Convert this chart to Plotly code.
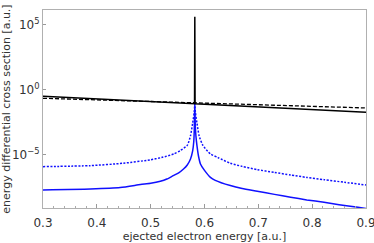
import plotly.graph_objects as go

# black solid (with sharp resonance spike)
x_black = [0.3, 0.45, 0.5815, 0.582, 0.5825, 0.75, 0.9]
y_black = [0.327, 0.161, 0.0861, 4.2e5, 0.086, 0.039, 0.019]

# black dashed
x_dash = [0.3, 0.45, 0.582, 0.75, 0.9]
y_dash = [0.229, 0.149, 0.100, 0.063, 0.0412]

# blue solid
x_bsol = [0.3, 0.388, 0.4435, 0.481, 0.50, 0.518, 0.53, 0.542, 0.552, 0.561, 0.568, 0.574,
          0.578, 0.580, 0.581, 0.582, 0.583, 0.584, 0.586, 0.589, 0.5925, 0.600, 0.611,
          0.62, 0.648, 0.67, 0.698, 0.73, 0.760, 0.79, 0.822, 0.85, 0.885, 0.9]
y_bsol = [2.04e-8, 2.40e-8, 3.1e-8, 5.25e-8, 6.6e-8, 9.5e-8, 1.41e-7, 2.57e-7, 4.2e-7, 8.3e-7, 1.7e-6, 4.9e-6,
          2.04e-5, 1.0e-4, 8.1e-4, 8.3e-2, 1.35e-3, 3.1e-4, 5.2e-5, 7.6e-6, 2.04e-6, 6.5e-7, 1.9e-7,
          1.12e-7, 4.4e-8, 2.6e-8, 1.62e-8, 9.3e-9, 5.6e-9, 3.5e-9, 2.3e-9, 1.5e-9, 9.5e-10, 7.6e-10]

# blue dotted
x_bdot = [0.3, 0.388, 0.449, 0.499, 0.52, 0.543, 0.555, 0.568, 0.574, 0.578, 0.581, 0.582,
          0.583, 0.586, 0.590, 0.597, 0.611, 0.625, 0.648, 0.67, 0.698, 0.73, 0.760, 0.79, 0.822, 0.86, 0.9]
y_bdot = [1.26e-6, 1.51e-6, 2.3e-6, 4.2e-6, 6.3e-6, 1.2e-5, 2.2e-5, 5.5e-5, 3.0e-4, 2.8e-3, 2.04e-2, 8.3e-2,
          2.04e-2, 2.8e-3, 3.0e-4, 5.5e-5, 1.2e-5, 6.3e-6, 2.3e-6, 1.32e-6, 7.4e-7, 4.5e-7, 2.9e-7, 1.86e-7, 1.26e-7, 7.9e-8, 4.9e-8]

x_ticks = [0.3, 0.4, 0.5, 0.6, 0.7, 0.8, 0.9]
y_tickvals = [1e-5, 1, 1e5]
y_ticktext = ["10<sup>\u22125</sup>", "10<sup>0</sup>", "10<sup>5</sup>"]

fig = go.Figure()
fig.add_trace(go.Scatter(x=x_bsol, y=y_bsol, mode="lines",
                         line=dict(color="#1010ff", width=1.5, shape="spline", smoothing=0.6)))
fig.add_trace(go.Scatter(x=x_bdot, y=y_bdot, mode="lines",
                         line=dict(color="#1010ff", width=1.5, dash="2px,1.5px",
                                   shape="spline", smoothing=0.6)))
fig.add_trace(go.Scatter(x=x_dash, y=y_dash, mode="lines",
                         line=dict(color="black", width=1.3, dash="4px,2px")))
fig.add_trace(go.Scatter(x=x_black, y=y_black, mode="lines",
                         line=dict(color="black", width=1.5)))

tfont = dict(family="DejaVu Sans", size=12, color="#333333")
lfont = dict(family="DejaVu Sans", size=11, color="#333333")
fig.update_layout(
    width=374, height=243,
    margin=dict(l=43, r=8, t=10, b=35, autoexpand=False),
    paper_bgcolor="white", plot_bgcolor="white",
    showlegend=False,
    font=tfont,
    xaxis=dict(
        range=[0.3, 0.9], tickvals=x_ticks, ticktext=[f"{v:.1f}" for v in x_ticks],
        ticks="inside", ticklen=4, tickcolor="#999999", tickwidth=1,
        minor=dict(ticks="inside", ticklen=2, tickcolor="#aaaaaa", dtick=0.02),
        showgrid=False, zeroline=False, automargin=False,
        ticklabeloverflow="allow", ticklabelstandoff=4,
        showline=True, linecolor="#b0b0b0", linewidth=1, mirror=True,
        title=dict(text="ejected electron energy [a.u.]", standoff=2, font=lfont),
        tickfont=tfont,
    ),
    yaxis=dict(
        type="log", range=[-9.08, 6.15],
        tickvals=y_tickvals, ticktext=y_ticktext,
        ticks="inside", ticklen=3, tickcolor="#999999",
        showgrid=False, zeroline=False, automargin=False,
        showline=True, linecolor="#b0b0b0", linewidth=1, mirror=True,
        title=dict(text="energy differential cross section [a.u.]", standoff=0, font=lfont),
        tickfont=tfont,
    ),
)
fig.write_html("out.html", config={"displayModeBar": False},
               post_script="document.body.style.margin='0';document.body.style.overflow='hidden';")
